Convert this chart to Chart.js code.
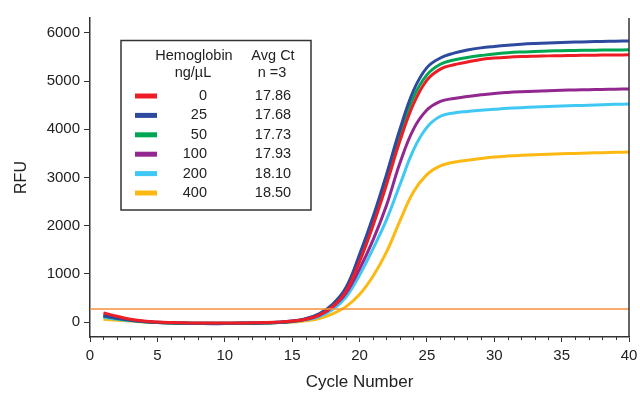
<!DOCTYPE html>
<html>
<head>
<meta charset="utf-8">
<script src="https://cdn.jsdelivr.net/npm/chart.js@4/dist/chart.umd.min.js"></script>
<style>
  html, body { margin: 0; padding: 0; background: #fff; }
  #wrap { width: 640px; height: 397px; }
</style>
</head>
<body>
<div id="wrap"><canvas id="c"></canvas></div>
<script>
const cycles = [1,2,3,4,5,6,7,8,9,10,11,12,13,14,15,16,17,18,19,20,21,22,23,24,25,26,27,28,29,30,31,32,33,34,35,36,37,38,39,40];

const hb = ['0', '25', '50', '100', '200', '400'];
const avgCt = ['17.86', '17.68', '17.73', '17.93', '18.10', '18.50'];
const colors = ['#ee1c25', '#2e4a9e', '#00a651', '#92278f', '#3ec8f3', '#fdb913'];

const rfu0   = [190,120,60,20,0,-10,-15,-20,-20,-20,-20,-15,-10,0,20,60,145,320,640,1250,2000,2850,3760,4520,5020,5250,5340,5395,5450,5478,5497,5510,5518,5524,5529,5533,5537,5540,5542,5545];
const rfu25  = [130,80,40,10,-5,-15,-20,-25,-25,-25,-20,-20,-15,-5,20,70,170,370,720,1400,2180,3060,4000,4800,5280,5480,5580,5645,5690,5720,5745,5765,5780,5792,5802,5810,5818,5824,5830,5835];
const rfu50  = [120,75,35,5,-10,-20,-25,-30,-30,-30,-25,-25,-20,-10,15,65,160,350,690,1340,2100,2960,3880,4660,5130,5350,5440,5492,5530,5565,5590,5605,5615,5625,5632,5637,5641,5644,5646,5650];
const rfu100 = [140,90,45,10,-10,-20,-25,-30,-35,-30,-30,-25,-20,-10,10,55,140,310,600,1100,1700,2420,3300,4000,4400,4580,4640,4682,4715,4745,4765,4780,4792,4802,4810,4817,4823,4828,4833,4838];
const rfu200 = [100,60,30,5,-10,-20,-25,-25,-25,-25,-25,-20,-15,-5,10,45,115,260,520,970,1520,2120,2850,3570,4040,4270,4340,4372,4395,4415,4435,4450,4462,4472,4482,4492,4500,4510,4518,4526];
const rfu400 = [60,40,20,0,-10,-20,-25,-25,-25,-25,-25,-20,-15,-10,0,25,75,170,320,570,950,1450,2100,2700,3060,3240,3318,3360,3395,3425,3445,3460,3472,3482,3492,3500,3508,3515,3522,3530];
const series = [rfu0, rfu25, rfu50, rfu100, rfu200, rfu400];

const threshold = 270;
const xTicks = [0, 5, 10, 15, 20, 25, 30, 35, 40];
const yTicks = [0, 1000, 2000, 3000, 4000, 5000, 6000];

const FONT = "'Liberation Sans', Arial, sans-serif";
const INK = '#222';
const AXIS = '#333';

const datasets = [{
  label: 'threshold',
  data: [{x: 0, y: threshold}, {x: 40, y: threshold}],
  borderColor: '#f4913c',
  borderWidth: 1.5,
  pointRadius: 0
}];
series.forEach((s, i) => {
  datasets.push({
    label: hb[i],
    data: s.map((v, j) => ({x: cycles[j], y: v})),
    borderColor: colors[i],
    borderWidth: 3,
    pointRadius: 0,
    tension: 0.4
  });
});

// right frame line, minor x ticks, and the table legend
const extras = {
  id: 'extras',
  afterDraw(chart) {
    const ctx = chart.ctx;
    const a = chart.chartArea;
    const xs = chart.scales.x;
    ctx.save();
    ctx.strokeStyle = AXIS;
    ctx.lineWidth = 1.5;
    ctx.beginPath();
    ctx.moveTo(a.right, a.top);
    ctx.lineTo(a.right, a.bottom);
    ctx.stroke();

    ctx.lineWidth = 1;
    for (let c = 1; c < 40; c++) {
      if (c % 5 === 0) continue;
      const px = Math.round(xs.getPixelForValue(c)) + 0.5;
      ctx.beginPath();
      ctx.moveTo(px, a.bottom);
      ctx.lineTo(px, a.bottom + 3);
      ctx.stroke();
    }

    // legend table
    ctx.lineWidth = 1.5;
    ctx.strokeRect(121, 40.5, 190, 169.5);
    ctx.fillStyle = INK;
    ctx.font = '14.5px ' + FONT;
    ctx.textBaseline = 'middle';
    ctx.textAlign = 'center';
    ctx.fillText('Hemoglobin', 194, 56);
    ctx.fillText('ng/µL', 193, 73);
    ctx.fillText('Avg Ct', 273, 56);
    ctx.fillText('n =3', 272, 73);
    for (let i = 0; i < hb.length; i++) {
      const y = 96 + i * 19.4;
      ctx.fillStyle = colors[i];
      ctx.fillRect(135, y - 2.5, 22, 5);
      ctx.fillStyle = INK;
      ctx.textAlign = 'right';
      ctx.fillText(hb[i], 207, y);
      ctx.textAlign = 'center';
      ctx.fillText(avgCt[i], 273, y);
    }
    ctx.restore();
  }
};

new Chart(document.getElementById('c'), {
  type: 'line',
  data: { datasets: datasets },
  options: {
    responsive: true,
    maintainAspectRatio: false,
    animation: false,
    layout: { padding: { top: 18, right: 11, left: 0, bottom: 0 } },
    plugins: {
      legend: { display: false },
      tooltip: { enabled: false }
    },
    scales: {
      x: {
        type: 'linear',
        min: 0,
        max: 40,
        afterBuildTicks: (s) => { s.ticks = xTicks.map(v => ({value: v})); },
        afterFit: (s) => { s.height = 60; s.paddingLeft = 0; s.paddingRight = 0; },
        grid: { drawOnChartArea: false, tickLength: 5, color: AXIS, tickWidth: 1 },
        border: { color: AXIS, width: 1.5 },
        ticks: { color: INK, font: { family: FONT, size: 15 }, padding: 5, maxRotation: 0, callback: (v) => String(v) },
        title: { display: true, text: 'Cycle Number', color: INK, font: { family: FONT, size: 17 }, padding: { top: 4, bottom: 4 } }
      },
      y: {
        min: -310,
        max: 6310,
        afterBuildTicks: (s) => { s.ticks = yTicks.map(v => ({value: v})); },
        afterFit: (s) => { s.width = 90; },
        grid: { drawOnChartArea: false, tickLength: 6, color: AXIS, tickWidth: 1 },
        border: { color: AXIS, width: 1.5 },
        ticks: { color: INK, font: { family: FONT, size: 15 }, padding: 4, callback: (v) => String(v) },
        title: { display: true, text: 'RFU', color: INK, font: { family: FONT, size: 16 }, padding: { top: 12, bottom: 0 } }
      }
    }
  },
  plugins: [extras]
});
</script>
</body>
</html>
